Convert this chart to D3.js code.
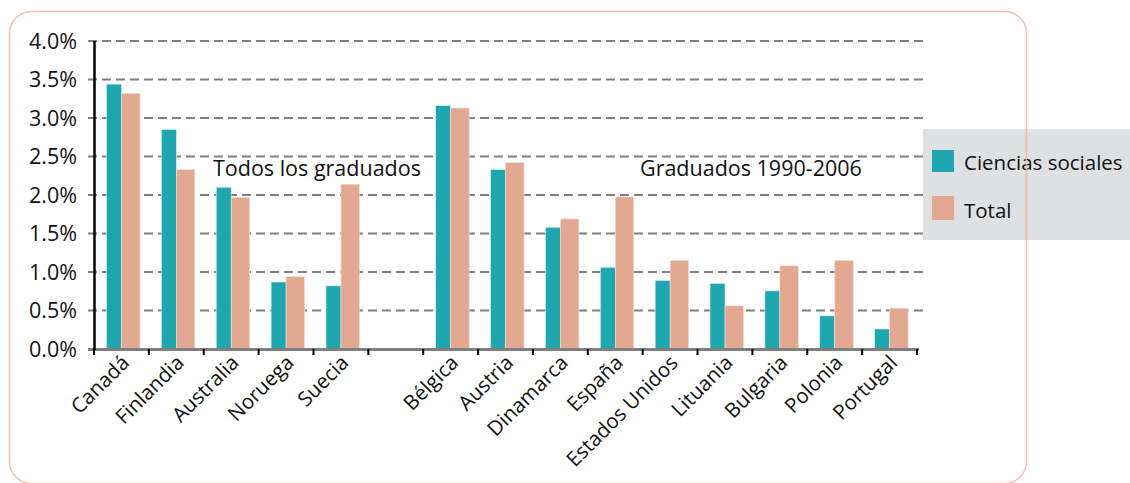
<!DOCTYPE html>
<html>
<head>
<meta charset="utf-8">
<script src="https://cdn.jsdelivr.net/npm/d3@7"></script>
<style>
  body { margin: 0; background: #fff; }
  text { font-family: "Open Sans", "Noto Sans", sans-serif; fill: #111; }
</style>
</head>
<body>
<div id="canvas"></div>
<script>
(function(){

    // data (percent)
    var countries = ["Canadá", "Finlandia", "Australia", "Noruega", "Suecia", "",
                     "Bélgica", "Austria", "Dinamarca", "España", "Estados Unidos",
                     "Lituania", "Bulgaria", "Polonia", "Portugal"];
    var ciencias = [3.44, 2.85, 2.10, 0.87, 0.82, null,
                    3.16, 2.33, 1.58, 1.06, 0.89, 0.85, 0.755, 0.43, 0.26];
    var total    = [3.32, 2.33, 1.97, 0.94, 2.14, null,
                    3.13, 2.42, 1.69, 1.975, 1.15, 0.56, 1.08, 1.15, 0.53];
    var yTicks = [0, 0.5, 1, 1.5, 2, 2.5, 3, 3.5, 4];
    var seriesNames = ["Ciencias sociales", "Total"];

    var teal = "#1ea7af";
    var salmon = "#e3a892";

    var svg = d3.select("#canvas")
                .append("svg")
                .attr("width", 1130)
                .attr("height", 483);

    var x = d3.scaleBand()
              .domain(d3.range(countries.length))
              .range([94, 917])
              .padding(0);

    var y = d3.scaleLinear()
              .domain([0, 4])
              .range([349, 41]);

    // grid lines
    svg.selectAll(".grid")
       .data(yTicks.filter(function(d){ return d > 0; }))
       .enter()
       .append("line")
       .attr("x1", 88)
       .attr("x2", 926)
       .attr("y1", function(d){ return y(d); })
       .attr("y2", function(d){ return y(d); })
       .attr("stroke", "#7f7f7f")
       .attr("stroke-width", 2)
       .attr("stroke-dasharray", "9,5");

    // y tick labels
    svg.selectAll(".ylab")
       .data(yTicks)
       .enter()
       .append("text")
       .attr("x", 77)
       .attr("y", function(d){ return y(d); })
       .attr("dy", "0.36em")
       .attr("text-anchor", "end")
       .style("font-size", "21.5px")
       .text(function(d){ return d.toFixed(1) + "%"; });

    // bars
    countries.forEach(function(c, i){
        if (ciencias[i] == null) return;
        svg.append("rect")
           .attr("x", x(i) + 12.5)
           .attr("y", y(ciencias[i]))
           .attr("width", 15)
           .attr("height", y(0) - y(ciencias[i]))
           .attr("fill", teal)
           .attr("stroke", "#d8f0f1")
           .attr("stroke-width", 0.6);
        svg.append("rect")
           .attr("x", x(i) + 27.5)
           .attr("y", y(total[i]))
           .attr("width", 18.5)
           .attr("height", y(0) - y(total[i]))
           .attr("fill", salmon)
           .attr("stroke", "#f6e0d8")
           .attr("stroke-width", 0.6);
    });

    // x axis
    svg.append("line")
       .attr("x1", 88).attr("x2", 919)
       .attr("y1", 349.5).attr("y2", 349.5)
       .attr("stroke", "#7f7f7f")
       .attr("stroke-width", 3);

    var tickPos = d3.range(countries.length + 1).map(function(i){
        return i < countries.length ? x(i) : x.range()[1];
    });
    svg.selectAll(".xtick")
       .data(tickPos)
       .enter()
       .append("line")
       .attr("x1", function(d){ return d; })
       .attr("x2", function(d){ return d; })
       .attr("y1", 349)
       .attr("y2", 355)
       .attr("stroke", "#000")
       .attr("stroke-width", 2);

    // y axis
    svg.append("line")
       .attr("x1", 94.5).attr("x2", 94.5)
       .attr("y1", 41).attr("y2", 350)
       .attr("stroke", "#000")
       .attr("stroke-width", 2.5);

    // x labels
    svg.selectAll(".xlab")
       .data(countries)
       .enter()
       .append("text")
       .attr("text-anchor", "end")
       .attr("transform", function(d, i){
           return "translate(" + (x(i) + x.bandwidth() / 2 + 9) + ",364) rotate(-45)";
       })
       .style("font-size", "20.5px")
       .text(function(d){ return d; });

    // group annotations
    svg.append("text")
       .attr("x", 213).attr("y", 176)
       .style("font-size", "21.5px")
       .text("Todos los graduados");
    svg.append("text")
       .attr("x", 640).attr("y", 176)
       .style("font-size", "21.5px")
       .text("Graduados 1990-2006");

    // legend
    var legend = svg.append("g");
    legend.append("rect")
          .attr("x", 923).attr("y", 129)
          .attr("width", 210).attr("height", 111)
          .attr("fill", "#dfe0e2");
    var legendColors = [teal, salmon];
    seriesNames.forEach(function(n, i){
        legend.append("rect")
              .attr("x", 932).attr("y", 150 + i * 46)
              .attr("width", 22).attr("height", i ? 24 : 22)
              .attr("fill", legendColors[i]);
        legend.append("text")
              .attr("x", 964).attr("y", 170 + i * 48)
              .style("font-size", "20.5px")
              .text(n);
    });

    // outer rounded frame
    svg.append("rect")
       .attr("x", 9.5).attr("y", 11.5)
       .attr("width", 1017).attr("height", 472)
       .attr("rx", 22).attr("ry", 22)
       .attr("fill", "none")
       .attr("stroke", "#eeb5a0")
       .attr("stroke-opacity", 0.85)
       .attr("stroke-width", 1.5);

})();
</script>
</body>
</html>
